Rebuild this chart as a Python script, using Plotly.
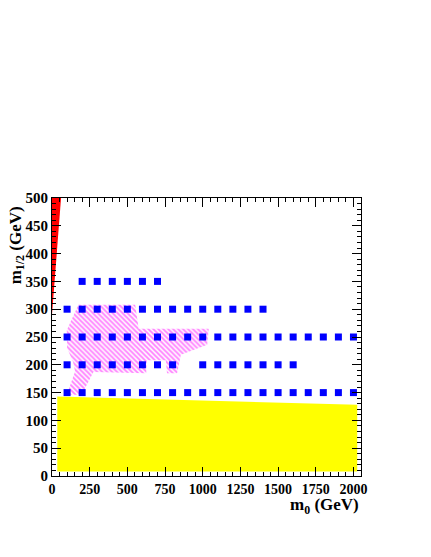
import plotly.graph_objects as go

# ---- data ----
row150_m0 = [100, 200, 300, 400, 500, 600, 700, 800, 900, 1000, 1100, 1200, 1300, 1400, 1500, 1600, 1700, 1800, 1900, 2000]
row200_m0 = [100, 200, 300, 400, 500, 600, 700, 800, 1000, 1100, 1200, 1300, 1400, 1500, 1600]
row250_m0 = [100, 200, 300, 400, 500, 600, 700, 800, 900, 1000, 1100, 1200, 1300, 1400, 1500, 1600, 1700, 1800, 1900, 2000]
row300_m0 = [100, 200, 300, 400, 500, 600, 700, 800, 900, 1000, 1100, 1200, 1300, 1400]
row350_m0 = [200, 300, 400, 500, 600, 700]
rows = [(150, row150_m0), (200, row200_m0), (250, row250_m0), (300, row300_m0), (350, row350_m0)]

# excluded (red) region
red_m0 = [0, 0, 60]
red_m12 = [290, 500, 500]

# yellow region
yellow_m0 = [35, 35, 2025, 2025]
yellow_m12 = [8, 143, 128, 8]

# hatched (pink) region
pink_m0 = [175, 552, 575, 1040, 1030, 855, 830, 763, 755, 629, 625, 275, 197, 98, 153, 140, 100, 98]
pink_m12 = [308, 308, 265, 265, 236, 218, 185, 185, 208, 208, 185, 187, 146, 146, 188, 205, 230, 262]

fig = go.Figure()

fig.add_trace(go.Scatter(
    x=pink_m0, y=pink_m12, mode="lines", fill="toself",
    line=dict(width=0, color="rgba(0,0,0,0)"),
    fillcolor="rgba(0,0,0,0)",
    fillpattern=dict(shape="\\", fgcolor="#ff00ff", bgcolor="rgba(0,0,0,0)", size=3.5, solidity=0.55),
    hoverinfo="skip", showlegend=False))

fig.add_trace(go.Scatter(
    x=yellow_m0, y=yellow_m12, mode="lines", fill="toself",
    line=dict(width=0, color="#ffff00"), fillcolor="#ffff00",
    hoverinfo="skip", showlegend=False))

fig.add_trace(go.Scatter(
    x=red_m0, y=red_m12, mode="lines", fill="toself",
    line=dict(width=0, color="#ff0000"), fillcolor="#ff0000",
    hoverinfo="skip", showlegend=False))

for m12, m0s in rows:
    fig.add_trace(go.Scatter(
        x=m0s, y=[m12] * len(m0s), mode="markers",
        marker=dict(symbol="square", size=7, color="#0000ff", line=dict(width=0)),
        showlegend=False))

axfont = dict(family="Liberation Serif", color="black", weight="bold")

fig.update_layout(
    width=431, height=557,
    margin=dict(l=52, r=70, t=198, b=81),
    paper_bgcolor="white", plot_bgcolor="white",
    showlegend=False,
    xaxis=dict(range=[0, 2050], showgrid=False, zeroline=False,
               showline=True, linecolor="black", linewidth=1, mirror="ticks",
               ticks="inside", ticklen=9, tickcolor="black", tickwidth=1,
               tick0=0, dtick=250,
               tickfont=dict(size=14, **axfont),
               minor=dict(ticks="inside", ticklen=4, dtick=50, tickcolor="black", showgrid=False)),
    yaxis=dict(range=[0, 500], showgrid=False, zeroline=False,
               showline=True, linecolor="black", linewidth=1, mirror="ticks",
               ticks="inside", ticklen=9, tickcolor="black", tickwidth=1,
               tick0=0, dtick=50,
               tickfont=dict(size=15, **axfont),
               minor=dict(ticks="inside", ticklen=4, dtick=10, tickcolor="black", showgrid=False)),
    annotations=[
        dict(text="m<sub>0</sub> (GeV)", xref="paper", yref="paper", x=1.0, y=-0.107,
             xanchor="right", yanchor="middle", showarrow=False,
             font=dict(size=17, **axfont)),
        dict(text="m<sub>1/2</sub> (GeV)", xref="paper", yref="paper", x=-0.113, y=0.83,
             xanchor="center", yanchor="middle", showarrow=False, textangle=-90,
             font=dict(size=17, **axfont)),
    ],
)

fig.write_html("out.html", config={"displayModeBar": False},
               post_script="document.body.style.margin='0';")
